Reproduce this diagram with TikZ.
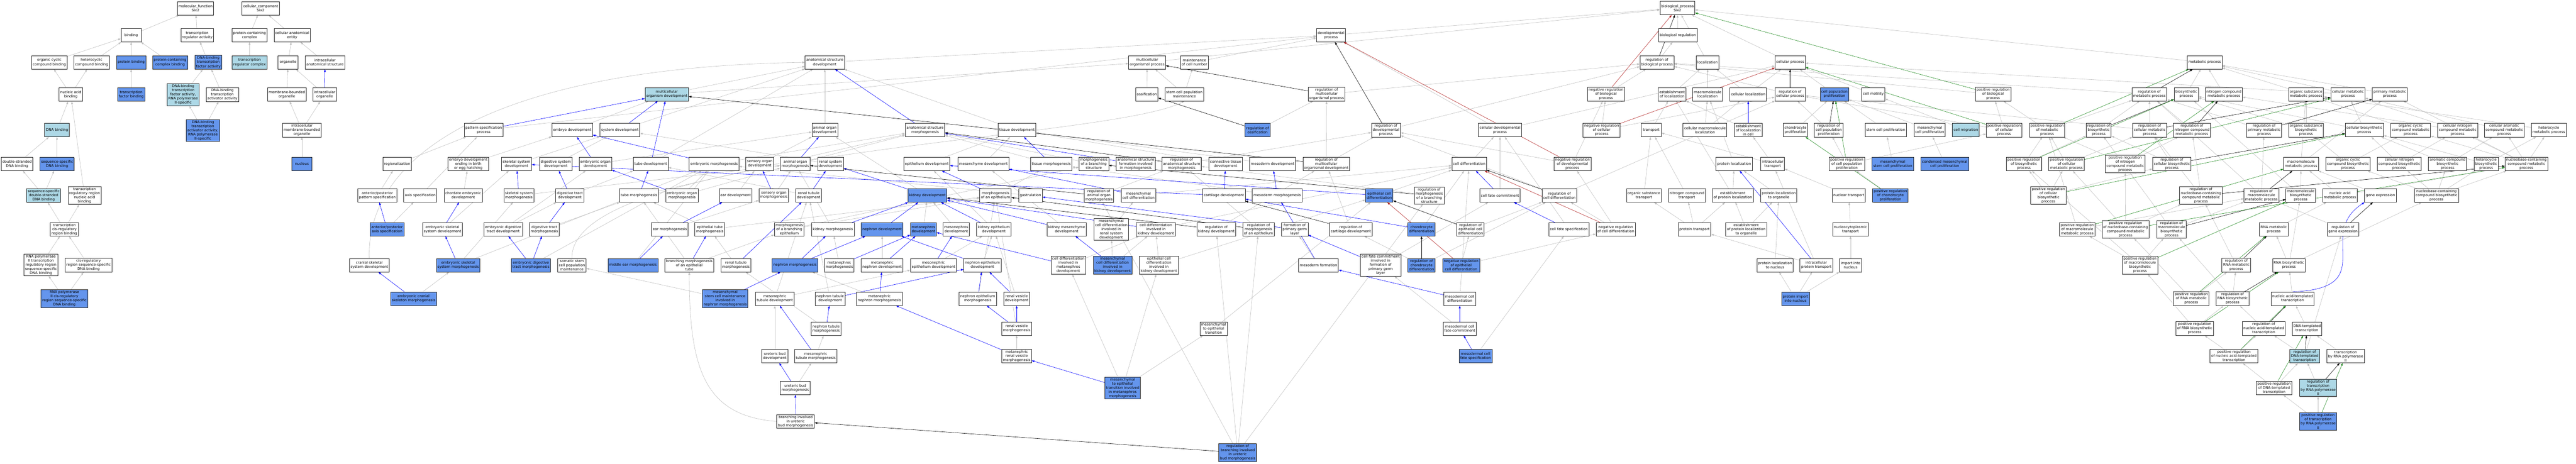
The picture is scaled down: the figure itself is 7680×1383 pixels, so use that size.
\documentclass[tikz,border=0pt]{standalone}
\usepackage{fontspec}
\setmainfont{DejaVu Sans}
\usetikzlibrary{arrows.meta,shadows}
\definecolor{cblue}{HTML}{6495ED}
\definecolor{lblue}{HTML}{ADD8E6}
\definecolor{egray}{HTML}{BEBEBE}
\definecolor{ered}{HTML}{B22222}
\definecolor{egreen}{HTML}{228B22}
\definecolor{eblue}{HTML}{0000FF}
\pgfdeclarelayer{bg}
\pgfsetlayers{bg,main}
\begin{document}
\begin{tikzpicture}[x=1pt,y=-1pt,
 nd/.style={draw=black!85,line width=1.2pt,fill=white,rectangle,align=center,
   font=\fontsize{10.6}{12.3}\selectfont,inner xsep=3.5pt,inner ysep=3pt,
   minimum width=60pt,minimum height=40pt,
   drop shadow={shadow xshift=1pt,shadow yshift=-1pt,fill=black!40,opacity=1}},
 bl/.style={nd,fill=cblue},
 lb/.style={nd,fill=lblue},
 tip/.style={-{Triangle[length=8pt,width=5.5pt]}},
 ea/.style={draw=egray,line width=0.9pt,tip},
 ep/.style={draw=eblue,line width=0.9pt,tip},
 er/.style={draw=black,line width=0.9pt,tip},
 en/.style={draw=ered,line width=0.9pt,tip},
 eg/.style={draw=egreen,line width=0.9pt,tip}]
\useasboundingbox (0,0) rectangle (7680,1383);
% ---------------- molecular function / cellular component
\node[nd] (mf) at (583,25) {molecular\_function\\Six2};
\node[nd] (cc) at (777,25) {cellular\_component\\Six2};
\node[nd] (binding) at (391,105) {binding};
\node[nd] (trareg) at (588,105) {transcription\\regulator activity};
\node[nd] (pcc) at (744,105) {protein-containing\\complex};
\node[nd] (cae) at (871,105) {cellular anatomical\\entity};
\node[nd] (ocb) at (147,186) {organic cyclic\\compound binding};
\node[nd] (hcb) at (273,186) {heterocyclic\\compound binding};
\node[bl] (protb) at (391,186) {protein binding};
\node[bl] (pccb) at (507,186) {protein-containing\\complex binding};
\node[bl] (dbtfa) at (621,186) {DNA-binding\\transcription\\factor activity};
\node[lb] (trc) at (744,186) {transcription\\regulator complex};
\node[nd] (organelle) at (859,186) {organelle};
\node[nd] (ias) at (969,186) {intracellular\\anatomical structure};
\node[nd] (nab) at (211,282) {nucleic acid\\binding};
\node[bl] (tfb) at (391,282) {transcription\\factor binding};
\node[lb] (dbtf2) at (546,282) {DNA-binding\\transcription\\factor activity,\\RNA polymerase\\II-specific};
\node[nd] (dbtaa) at (663,282) {DNA-binding\\transcription\\activator activity};
\node[nd] (mbo) at (855,282) {membrane-bounded\\organelle};
\node[nd] (io) at (968,282) {intracellular\\organelle};
\node[lb] (dnab) at (170,388) {DNA binding};
\node[bl] (dbta2) at (605,389) {DNA-binding\\transcription\\activator activity,\\RNA polymerase\\II-specific};
\node[nd] (imbo) at (900,388) {intracellular\\membrane-bounded\\organelle};
\node[nd] (dsdna) at (51,489) {double-stranded\\DNA binding};
\node[bl] (ssdna) at (170,489) {sequence-specific\\DNA binding};
\node[bl] (nucleus) at (900,489) {nucleus};
\node[lb] (ssds) at (130,583) {sequence-specific\\double-stranded\\DNA binding};
\node[nd] (trrnab) at (252,583) {transcription\\regulatory region\\nucleic acid\\binding};
\node[nd] (tcrb) at (192,684) {transcription\\cis-regulatory\\region binding};
\node[nd] (rp2tr) at (122,790) {RNA polymerase\\II transcription\\regulatory region\\sequence-specific\\DNA binding};
\node[nd] (crss) at (264,791) {cis-regulatory\\region sequence-specific\\DNA binding};
\node[bl] (rp2cr) at (192,891) {RNA polymerase\\II cis-regulatory\\region sequence-specific\\DNA binding};
% ---------------- development (left)
\node[nd] (regionalization) at (1184,489) {regionalization};
\node[nd] (apps) at (1125,583) {anterior/posterior\\pattern specification};
\node[nd] (axisspec) at (1253,583) {axis specification};
\node[bl] (apas) at (1154,684) {anterior/posterior\\axis specification};
\node[nd] (essd) at (1319,684) {embryonic skeletal\\system development};
\node[nd] (crsd) at (1101,791) {cranial skeletal\\system development};
\node[bl] (ecsm) at (1233,891) {embryonic cranial\\skeleton morphogenesis};
\node[nd] (asd) at (2459,186) {anatomical structure\\development};
\node[lb] (mod) at (1988,281) {multicellular\\organism development};
\node[nd] (psp) at (1442,388) {pattern specification\\process};
\node[nd] (ed) at (1706,388) {embryo development};
\node[nd] (sysdev) at (1848,388) {system development};
\node[nd] (aod) at (2459,388) {animal organ\\development};
\node[nd] (edebeh) at (1396,489) {embryo development\\ending in birth\\or egg hatching};
\node[nd] (ssd) at (1540,489) {skeletal system\\development};
\node[nd] (dsd) at (1657,489) {digestive system\\development};
\node[nd] (eod) at (1775,489) {embryonic organ\\development};
\node[nd] (tubedev) at (1940,489) {tube development};
\node[nd] (emorph) at (2129,489) {embryonic morphogenesis};
\node[nd] (sod) at (2265,489) {sensory organ\\development};
\node[nd] (aom) at (2371,489) {animal organ\\morphogenesis};
\node[nd] (rsd) at (2476,489) {renal system\\development};
\node[nd] (ced) at (1381,583) {chordate embryonic\\development};
\node[nd] (ssm) at (1547,583) {skeletal system\\morphogenesis};
\node[nd] (dtd) at (1699,583) {digestive tract\\development};
\node[nd] (tubemorph) at (1905,583) {tube morphogenesis};
\node[nd] (eom) at (2033,583) {embryonic organ\\morphogenesis};
\node[nd] (eardev) at (2193,583) {ear development};
\node[nd] (som) at (2307,583) {sensory organ\\morphogenesis};
\node[nd] (rtd) at (2411,583) {renal tubule\\development};
\node[nd] (edtd) at (1500,684) {embryonic digestive\\tract development};
\node[nd] (dtm) at (1623,684) {digestive tract\\morphogenesis};
\node[nd] (earmorph) at (1997,684) {ear morphogenesis};
\node[nd] (etm) at (2116,684) {epithelial tube\\morphogenesis};
\node[nd] (mobe) at (2353,684) {morphogenesis\\of a branching\\epithelium};
\node[nd] (kidmorph) at (2483,684) {kidney morphogenesis};
\node[bl] (nephdev) at (2630,684) {nephron development};
\node[bl] (essm) at (1366,791) {embryonic skeletal\\system morphogenesis};
\node[bl] (edtm) at (1583,791) {embryonic digestive\\tract morphogenesis};
\node[nd] (sscpm) at (1705,791) {somatic stem\\cell population\\maintenance};
\node[bl] (mem) at (1887,791) {middle ear morphogenesis};
\node[nd] (bmet) at (2055,791) {branching morphogenesis\\of an epithelial\\tube};
\node[nd] (rtm) at (2194,791) {renal tubule\\morphogenesis};
\node[bl] (nephmorph) at (2370,791) {nephron morphogenesis};
\node[nd] (metmorph) at (2502,791) {metanephros\\morphogenesis};
\node[nd] (mnd) at (2630,791) {metanephric\\nephron development};
\node[bl] (msmn) at (2162,891) {mesenchymal\\stem cell maintenance\\involved in\\nephron morphogenesis};
\node[nd] (mtd) at (2310,891) {mesonephric\\tubule development};
\node[nd] (ntd) at (2475,891) {nephron tubule\\development};
\node[nd] (mnm) at (2622,891) {metanephric\\nephron morphogenesis};
\node[nd] (ntm) at (2463,981) {nephron tubule\\morphogenesis};
\node[nd] (ubd) at (2310,1062) {ureteric bud\\development};
\node[nd] (mtm) at (2432,1062) {mesonephric\\tubule morphogenesis};
\node[nd] (ubm) at (2371,1157) {ureteric bud\\morphogenesis};
\node[nd] (biubm) at (2372,1257) {branching involved\\in ureteric\\bud morphogenesis};
% ---------------- development (middle)
\node[nd] (mop) at (3420,186) {multicellular\\organismal process};
\node[nd] (mcn) at (3561,186) {maintenance\\of cell number};
\node[nd] (ossif) at (3419,281) {ossification};
\node[nd] (scpm) at (3531,281) {stem cell population\\maintenance};
\node[nd] (asmorph) at (2758,388) {anatomical structure\\morphogenesis};
\node[nd] (tissdev) at (3032,388) {tissue development};
\node[bl] (regoss) at (3749,388) {regulation of\\ossification};
\node[nd] (epidev) at (2763,489) {epithelium development};
\node[nd] (mesdev) at (2932,489) {mesenchyme development};
\node[nd] (tissmorph) at (3134,489) {tissue morphogenesis};
\node[nd] (mbs) at (3261,489) {morphogenesis\\of a branching\\structure};
\node[nd] (asfim) at (3386,489) {anatomical structure\\formation involved\\in morphogenesis};
\node[nd] (rasm) at (3523,489) {regulation of\\anatomical structure\\morphogenesis};
\node[nd] (ctd) at (3654,489) {connective tissue\\development};
\node[nd] (mesodermdev) at (3794,489) {mesoderm development};
\node[bl] (kiddev) at (2765,583) {kidney development};
\node[nd] (moe) at (2968,583) {morphogenesis\\of an epithelium};
\node[nd] (gastr) at (3072,583) {gastrulation};
\node[nd] (raom) at (3276,583) {regulation of\\animal organ\\morphogenesis};
\node[nd] (mcd) at (3394,583) {mesenchymal\\cell differentiation};
\node[nd] (cardev) at (3649,583) {cartilage development};
\node[nd] (mesomorph) at (3808,583) {mesoderm morphogenesis};
\node[bl] (metdev) at (2753,684) {metanephros\\development};
\node[nd] (mesodev) at (2851,684) {mesonephros\\development};
\node[nd] (kedev) at (2963,684) {kidney epithelium\\development};
\node[nd] (kmdev) at (3180,684) {kidney mesenchyme\\development};
\node[nd] (mcdrsd) at (3313,684) {mesenchymal\\cell differentiation\\involved in\\renal system\\development};
\node[nd] (cdikd) at (3446,684) {cell differentiation\\involved in\\kidney development};
\node[nd] (rkd) at (3626,684) {regulation of\\kidney development};
\node[nd] (rmoe) at (3752,684) {regulation of\\morphogenesis\\of an epithelium};
\node[nd] (fpgl) at (3860,684) {formation of\\primary germ\\layer};
\node[nd] (med) at (2783,791) {mesonephric\\epithelium development};
\node[nd] (ned) at (2929,791) {nephron epithelium\\development};
\node[nd] (cdimd) at (3185,791) {cell differentiation\\involved in\\metanephros\\development};
\node[bl] (mcdikd) at (3317,791) {mesenchymal\\cell differentiation\\involved in\\kidney development};
\node[nd] (ecdikd) at (3455,791) {epithelial cell\\differentiation\\involved in\\kidney development};
\node[nd] (nem) at (2915,891) {nephron epithelium\\morphogenesis};
\node[nd] (rvd) at (3031,891) {renal vesicle\\development};
\node[nd] (rvm) at (3031,980) {renal vesicle\\morphogenesis};
\node[nd] (met) at (3618,980) {mesenchymal\\to epithelial\\transition};
\node[nd] (mrvm) at (3031,1062) {metanephric\\renal vesicle\\morphogenesis};
\node[bl] (metimm) at (3347,1157) {mesenchymal\\to epithelial\\transition involved\\in metanephros\\morphogenesis};
\node[bl] (rbiubm) at (3690,1350) {regulation of\\branching involved\\in ureteric\\bud morphogenesis};
% ---------------- biological process / regulation
\node[nd] (bp) at (5001,24) {biological\_process\\Six2};
\node[nd] (devproc) at (3968,105) {developmental\\process};
\node[nd] (bioreg) at (5002,105) {biological regulation};
\node[nd] (rbp) at (4940,186) {regulation of\\biological process};
\node[nd] (localization) at (5091,186) {localization};
\node[nd] (romop) at (3955,281) {regulation of\\multicellular\\organismal process};
\node[nd] (nrbp) at (4788,281) {negative regulation\\of biological\\process};
\node[nd] (eol) at (4985,281) {establishment\\of localization};
\node[nd] (ml) at (5091,281) {macromolecule\\localization};
\node[nd] (rdp) at (4132,388) {regulation of\\developmental\\process};
\node[nd] (cdp) at (4472,388) {cellular developmental\\process};
\node[nd] (nrcp) at (4775,388) {negative regulation\\of cellular\\process};
\node[nd] (transport) at (4923,388) {transport};
\node[nd] (cml) at (5083,388) {cellular macromolecule\\localization};
\node[nd] (romod) at (3954,489) {regulation of\\multicellular\\organismal development};
\node[nd] (celldiff) at (4380,489) {cell differentiation};
\node[nd] (nrdp) at (4688,489) {negative regulation\\of developmental\\process};
\node[nd] (protloc) at (5170,489) {protein localization};
\node[bl] (ecd) at (4112,583) {epithelial cell\\differentiation};
\node[nd] (rmbs) at (4261,583) {regulation of\\morphogenesis\\of a branching\\structure};
\node[nd] (cfc) at (4472,583) {cell fate commitment};
\node[nd] (rcd) at (4649,583) {regulation of\\cell differentiation};
\node[nd] (ost) at (4901,583) {organic substance\\transport};
\node[nd] (nct) at (5029,583) {nitrogen compound\\transport};
\node[nd] (eopl) at (5166,583) {establishment\\of protein localization};
\node[nd] (rcartd) at (4027,684) {regulation of\\cartilage development};
\node[bl] (chondiff) at (4238,684) {chondrocyte\\differentiation};
\node[nd] (recd) at (4384,684) {regulation of\\epithelial cell\\differentiation};
\node[nd] (cfs) at (4677,684) {cell fate specification};
\node[nd] (nrcd) at (4817,684) {negative regulation\\of cell differentiation};
\node[nd] (prottrans) at (5052,684) {protein transport};
\node[nd] (mesoform) at (3931,791) {mesoderm formation};
\node[nd] (cfcifpgl) at (4116,791) {cell fate commitment\\involved in\\formation of\\primary germ\\layer};
\node[bl] (rchondiff) at (4238,791) {regulation of\\chondrocyte\\differentiation};
\node[bl] (nrecd) at (4356,791) {negative regulation\\of epithelial\\cell differentiation};
\node[nd] (mcdiff) at (4352,891) {mesodermal cell\\differentiation};
\node[nd] (mcfc) at (4352,980) {mesodermal cell\\fate commitment};
\node[bl] (mcfs) at (4399,1062) {mesodermal cell\\fate specification};
% ---------------- cellular process
\node[nd] (cellproc) at (5337,186) {cellular process};
\node[nd] (cellloc) at (5212,281) {cellular localization};
\node[nd] (rcp) at (5337,281) {regulation of\\cellular process};
\node[bl] (cpp) at (5469,281) {cell population\\proliferation};
\node[nd] (motility) at (5585,281) {cell motility};
\node[nd] (prbp) at (5942,281) {positive regulation\\of biological\\process};
\node[nd] (rmp) at (6408,281) {regulation of\\metabolic process};
\node[nd] (elic) at (5212,388) {establishment\\of localization\\in cell};
\node[nd] (chondprolif) at (5353,388) {chondrocyte\\proliferation};
\node[nd] (rcpp) at (5452,388) {regulation of\\cell population\\proliferation};
\node[nd] (scp) at (5622,388) {stem cell proliferation};
\node[nd] (mcp) at (5753,388) {mesenchymal\\cell proliferation};
\node[lb] (cellmig) at (5861,388) {cell migration};
\node[nd] (prcp) at (5975,388) {positive regulation\\of cellular\\process};
\node[nd] (prmp) at (6103,388) {positive regulation\\of metabolic\\process};
\node[nd] (rbsp) at (6257,388) {regulation of\\biosynthetic\\process};
\node[nd] (rcmp) at (6409,388) {regulation of\\cellular metabolic\\process};
\node[nd] (intratrans) at (5285,489) {intracellular\\transport};
\node[nd] (prcpp) at (5506,489) {positive regulation\\of cell population\\proliferation};
\node[bl] (mscp) at (5643,489) {mesenchymal\\stem cell proliferation};
\node[bl] (cmcp) at (5798,489) {condensed mesenchymal\\cell proliferation};
\node[nd] (prbsp) at (6034,489) {positive regulation\\of biosynthetic\\process};
\node[nd] (prcmp) at (6161,489) {positive regulation\\of cellular\\metabolic process};
\node[nd] (prncmp) at (6336,489) {positive regulation\\of nitrogen\\compound metabolic\\process};
\node[nd] (rcbp) at (6475,489) {regulation of\\cellular biosynthetic\\process};
\node[nd] (plto) at (5303,583) {protein localization\\to organelle};
\node[nd] (nuctrans) at (5512,583) {nuclear transport};
\node[bl] (prchondprolif) at (5636,583) {positive regulation\\of chondrocyte\\proliferation};
\node[nd] (prcbp) at (6107,583) {positive regulation\\of cellular\\biosynthetic\\process};
\node[nd] (rnccmp) at (6562,583) {regulation of\\nucleobase-containing\\compound metabolic\\process};
\node[nd] (eoplto) at (5206,684) {establishment\\of protein localization\\to organelle};
\node[nd] (nctrans) at (5517,684) {nucleocytoplasmic\\transport};
\node[nd] (prmmp) at (6193,684) {positive regulation\\of macromolecule\\metabolic process};
\node[nd] (prnccmp) at (6337,684) {positive regulation\\of nucleobase-containing\\compound metabolic\\process};
\node[nd] (pltn) at (5292,791) {protein localization\\to nucleus};
\node[nd] (ipt) at (5415,791) {intracellular\\protein transport};
\node[nd] (iin) at (5517,791) {import into\\nucleus};
\node[nd] (prmbp) at (6380,791) {positive regulation\\of macromolecule\\biosynthetic\\process};
\node[bl] (pin) at (5353,891) {protein import\\into nucleus};
% ---------------- metabolic process
\node[nd] (metproc) at (6573,186) {metabolic process};
\node[nd] (biosynth) at (6518,281) {biosynthetic\\process};
\node[nd] (ncmp) at (6630,281) {nitrogen compound\\metabolic process};
\node[nd] (osmp) at (6875,281) {organic substance\\metabolic process};
\node[nd] (cellmet) at (7000,281) {cellular metabolic\\process};
\node[nd] (primmet) at (7125,281) {primary metabolic\\process};
\node[nd] (rncmp) at (6535,388) {regulation of\\nitrogen compound\\metabolic process};
\node[nd] (rpmp) at (6750,388) {regulation of\\primary metabolic\\process};
\node[nd] (osbp) at (6875,388) {organic substance\\biosynthetic\\process};
\node[nd] (cbp) at (7049,388) {cellular biosynthetic\\process};
\node[nd] (occmp) at (7187,388) {organic cyclic\\compound metabolic\\process};
\node[nd] (cncmp) at (7327,388) {cellular nitrogen\\compound metabolic\\process};
\node[nd] (camp) at (7466,388) {cellular aromatic\\compound metabolic\\process};
\node[nd] (hmp) at (7599,388) {heterocycle\\metabolic process};
\node[nd] (mmp) at (6860,489) {macromolecule\\metabolic process};
\node[nd] (occbp) at (7000,489) {organic cyclic\\compound biosynthetic\\process};
\node[nd] (cncbp) at (7153,489) {cellular nitrogen\\compound biosynthetic\\process};
\node[nd] (acbp) at (7297,489) {aromatic compound\\biosynthetic\\process};
\node[nd] (hbp) at (7412,489) {heterocycle\\biosynthetic\\process};
\node[nd] (nccmp) at (7532,489) {nucleobase-containing\\compound metabolic\\process};
\node[nd] (rmmp) at (6742,583) {regulation of\\macromolecule\\metabolic process};
\node[nd] (mbp) at (6859,583) {macromolecule\\biosynthetic\\process};
\node[nd] (namp) at (6976,583) {nucleic acid\\metabolic process};
\node[nd] (geneexp) at (7097,583) {gene expression};
\node[nd] (nccbp) at (7264,583) {nucleobase-containing\\compound biosynthetic\\process};
\node[nd] (rmbp) at (6474,684) {regulation of\\macromolecule\\biosynthetic\\process};
\node[nd] (rnamp) at (6779,684) {RNA metabolic\\process};
\node[nd] (rge) at (6985,684) {regulation of\\gene expression};
\node[nd] (rrnamp) at (6667,791) {regulation of\\RNA metabolic\\process};
\node[nd] (rnabp) at (6824,791) {RNA biosynthetic\\process};
\node[nd] (prrnamp) at (6533,891) {positive regulation\\of RNA metabolic\\process};
\node[nd] (rrnabp) at (6656,891) {regulation of\\RNA biosynthetic\\process};
\node[nd] (nat) at (6835,891) {nucleic acid-templated\\transcription};
\node[nd] (prrnabp) at (6543,980) {positive regulation\\of RNA biosynthetic\\process};
\node[nd] (rnatt) at (6749,980) {regulation of\\nucleic acid-templated\\transcription};
\node[nd] (dtt) at (6878,980) {DNA-templated\\transcription};
\node[nd] (prnatt) at (6660,1062) {positive regulation\\of nucleic acid-templated\\transcription};
\node[lb] (rdtt) at (6871,1062) {regulation of\\DNA-templated\\transcription};
\node[nd] (trp2) at (6993,1062) {transcription\\by RNA polymerase\\II};
\node[nd] (prdtt) at (6780,1157) {positive regulation\\of DNA-templated\\transcription};
\node[lb] (rtrp2) at (6911,1157) {regulation of\\transcription\\by RNA polymerase\\II};
\node[bl] (prtrp2) at (6911,1257) {positive regulation\\of transcription\\by RNA polymerase\\II};
% ================= edges
\begin{pgfonlayer}{bg}
\fill[white] (0,0) rectangle (7680,1383);
\foreach \a/\b in {binding/mf, trareg/mf, pcc/cc, cae/cc, ocb/binding, hcb/binding, protb/binding, pccb/binding, dbtfa/trareg, trc/pcc, organelle/cae, ias/cae, nab/ocb, nab/hcb, tfb/protb, dbtf2/dbtfa, dbtaa/dbtfa, mbo/organelle, io/organelle, dnab/nab, dbta2/dbtf2, dbta2/dbtaa, imbo/mbo, imbo/io, dsdna/dnab, ssdna/dnab, nucleus/imbo, trrnab/nab, ssds/dsdna, ssds/ssdna, tcrb/ssds, tcrb/trrnab, rp2tr/tcrb, crss/tcrb, rp2cr/rp2tr, rp2cr/crss,
 regionalization/psp, apps/regionalization, axisspec/psp, apas/axisspec, ecsm/essm, essd/ssd, essm/ssm, essm/emorph, ced/edebeh, edebeh/ed, psp/devproc, ed/mod, mod/asd, mod/mop, sysdev/asd, aod/asd, emorph/asmorph, eod/aod, ssd/sysdev, dsd/sysdev, tubedev/asd, sod/aod, aom/asmorph, rsd/sysdev, ssm/aom, dtd/tubedev, tubemorph/asmorph, eom/emorph, eom/aom, eardev/sod, som/aom, rtd/tubedev, edtd/dtd, edtd/eod, dtm/tubemorph, earmorph/som, etm/tubemorph, etm/moe, mobe/mbs, mobe/moe, kidmorph/aom, edtm/emorph, mem/emorph, bmet/mobe, bmet/tubemorph, rtm/etm, metmorph/kidmorph, msmn/sscpm, mtd/rtd, mtd/med, ntd/rtd, ntm/rtm, ubd/mtd, mtm/ntm, ubm/mtm, mnm/nephmorph,
 mop/bp, mcn/devproc, ossif/mop, scpm/mop, scpm/mcn, regoss/romop, tissdev/asd, epidev/tissdev, mesdev/tissdev, tissmorph/asmorph, mbs/asmorph, ctd/tissdev, mesodermdev/tissdev, kiddev/aod, moe/tissmorph, gastr/emorph, raom/rasm, mcd/celldiff, mesomorph/tissmorph, metdev/kiddev, mesodev/kiddev, kedev/epidev, kmdev/mesdev, mcdrsd/mcd, cdikd/celldiff, mnd/nephdev, med/kedev, ned/kedev, cdimd/cdikd, mcdikd/mcdrsd, mcdikd/cdikd, ecdikd/cdikd, ecdikd/ecd, nem/moe, rvd/kedev, rvm/moe, met/ecd, mrvm/rvm, metimm/met, metimm/cdimd, metimm/ecdikd, rbiubm/rkd, rbiubm/rmoe, rbiubm/raom, rbiubm/rmbs, rasm/rdp, rkd/romod, rmoe/rasm, asd/devproc, devproc/bp,
 bioreg/bp, rbp/bioreg, localization/bp, romop/rbp, nrbp/rbp, eol/localization, ml/localization, rdp/rbp, cdp/devproc, cdp/cellproc, nrcp/nrbp, nrcp/rcp, transport/eol, cml/ml, cml/cellloc, romod/romop, romod/rdp, celldiff/cdp, nrdp/rdp, nrdp/nrbp, protloc/ml, ecd/celldiff, rmbs/rasm, cfc/cdp, rcd/rdp, rcd/rcp, ost/transport, nct/transport, eopl/protloc, eopl/eol, rcartd/romod, chondiff/celldiff, recd/rcd, cfs/cdp, nrcd/rcd, nrcd/nrdp, prottrans/ost, prottrans/nct, prottrans/eopl, mesoform/fpgl, cfcifpgl/cfc, rchondiff/rcd, rchondiff/rcartd, nrecd/recd, nrecd/nrcd, mcdiff/celldiff, mcfc/cfcifpgl, mcfs/cfs,
 cellproc/bp, cellloc/localization, cellloc/cellproc, rcp/rbp, cpp/cellproc, motility/cellproc, prbp/rbp, rmp/rbp, elic/eol, chondprolif/cpp, rcpp/rcp, scp/cpp, mcp/cpp, cellmig/motility, prcp/prbp, prcp/rcp, prmp/prbp, prmp/rmp, rbsp/rmp, rcmp/rmp, rcmp/rcp, intratrans/transport, intratrans/elic, prcpp/rcpp, prcpp/prcp, mscp/scp, cmcp/mcp, prbsp/rbsp, prbsp/prmp, prcmp/rcmp, prcmp/prmp, prncmp/prmp, prncmp/rncmp, rcbp/rbsp, rcbp/rcmp, plto/protloc, nuctrans/intratrans, prchondprolif/prcpp, prcbp/prbsp, prcbp/prcmp, prcbp/rcbp, rnccmp/rcmp, rnccmp/rncmp, eoplto/eopl, eoplto/plto, nctrans/nuctrans, prmmp/prmp, prmmp/rmmp, prnccmp/rnccmp, prnccmp/prcmp, prnccmp/prncmp, pltn/plto, ipt/intratrans, ipt/prottrans, iin/nctrans, prmbp/prmmp, prmbp/prbsp, prmbp/rmbp, pin/pltn, pin/ipt, pin/iin,
 metproc/bp, biosynth/metproc, ncmp/metproc, osmp/metproc, cellmet/metproc, cellmet/cellproc, primmet/metproc, rncmp/rmp, rpmp/rmp, osbp/osmp, osbp/biosynth, cbp/biosynth, cbp/cellmet, occmp/osmp, cncmp/cellmet, cncmp/ncmp, camp/cellmet, hmp/osmp, mmp/osmp, mmp/primmet, occbp/occmp, occbp/osbp, cncbp/cncmp, cncbp/cbp, acbp/camp, acbp/cbp, hbp/hmp, hbp/cbp, nccmp/occmp, nccmp/cncmp, nccmp/camp, nccmp/hmp, nccmp/primmet, rmmp/rmp, rmmp/rpmp, mbp/mmp, mbp/biosynth, namp/nccmp, namp/mmp, geneexp/mmp, nccbp/nccmp, nccbp/occbp, nccbp/cncbp, nccbp/acbp, nccbp/hbp, rmbp/rmmp, rmbp/rbsp, rnamp/namp, rge/rmmp, rrnamp/rnccmp, rnabp/rnamp, rnabp/mbp, rnabp/nccbp, prrnamp/rrnamp, prrnamp/prnccmp, rrnabp/rrnamp, rrnabp/rmbp, nat/rnabp, prrnabp/rrnabp, prrnabp/prmbp, rnatt/rrnabp, dtt/nat, prnatt/rnatt, prnatt/prrnabp, rdtt/rnatt, rdtt/rge, trp2/dtt, prdtt/prnatt, prdtt/rdtt, rtrp2/rdtt, prtrp2/prdtt, prtrp2/rtrp2}
 \draw[ea] (\a) -- (\b);
\draw[ea] (crsd.north) .. controls (1090,450) and (1500,200) .. (asd.west);
\draw[ea] (biubm.west) .. controls (2100,1240) and (2055,1100) .. (bmet.south);
\draw[ea] (sscpm.north) .. controls (1700,450) and (3300,420) .. (scpm.south);
\foreach \a/\b in {io/ias, apas/apps, ecsm/crsd, essd/ced, essm/essd, psp/mod, sysdev/mod, tubedev/mod, emorph/ed, eod/ed, aom/aod, ssm/ssd, dtd/dsd, tubemorph/tubedev, eom/eod, som/sod, rtd/rsd, dtm/dtd, earmorph/eardev, kidmorph/kiddev, nephdev/kiddev, edtm/edtd, edtm/dtm, mem/earmorph, bmet/etm, rtm/rtd, nephmorph/kidmorph, nephmorph/nephdev, metmorph/metdev, msmn/nephmorph, ntm/ntd, ntd/ned, mtm/mtd, ubm/ubd, biubm/ubm,
 asmorph/asd, tissmorph/tissdev, asfim/asmorph, kiddev/rsd, cardev/ssd, moe/epidev, mcd/mesdev, cardev/ctd, mesomorph/mesodermdev, kedev/kiddev, kmdev/kiddev, cdikd/kiddev, fpgl/gastr, mnd/metdev, med/mesodev, ned/nephdev, cdimd/metdev, mcdikd/kmdev, mnm/mnd, nem/ned, rvd/ned, rvm/rvd, rvm/nem, mrvm/mnm, metimm/mrvm,
 ecd/epidev, cfc/celldiff, chondiff/cardev, cfs/cfc, mesoform/mesomorph, cfcifpgl/fpgl, mcdiff/mesoform, mcfc/mcdiff, mcfs/mcfc, elic/cellloc, ipt/protloc}
 \draw[ep] (\a) -- (\b);
\draw[ep] (nat.north) .. controls (7100,860) and (6900,700) .. (geneexp.south west);
\foreach \a/\b in {rbiubm/biubm, regoss/ossif, rasm/asmorph, raom/aom, rkd/kiddev, rmoe/moe, rbp/bp, romop/mop, rdp/devproc, romod/mod, rmbs/mbs, rcd/celldiff, rcartd/cardev, recd/ecd, rchondiff/chondiff, rcp/cellproc, rmp/metproc, rcpp/cpp, rbsp/biosynth, rcmp/cellmet, rcbp/cbp, rnccmp/nccmp, rncmp/ncmp, rpmp/primmet, rmmp/mmp, rmbp/mbp, rge/geneexp, rrnamp/rnamp, rrnabp/rnabp, rnatt/nat, rdtt/dtt, rtrp2/trp2}
 \draw[er] (\a) -- (\b);
\foreach \a/\b in {nrbp/bp, nrcp/cellproc, nrdp/devproc, nrcd/celldiff, nrecd/ecd}
 \draw[en] (\a) -- (\b);
\foreach \a/\b in {prbp/bp, prcp/cellproc, prmp/metproc, prcpp/cpp, prchondprolif/chondprolif, prbsp/biosynth, prcmp/cellmet, prncmp/ncmp, prcbp/cbp, prmmp/mmp, prnccmp/nccmp, prmbp/mbp, prrnamp/rnamp, prrnabp/rnabp, prnatt/nat, prdtt/dtt, prtrp2/trp2}
 \draw[eg] (\a) -- (\b);
\end{pgfonlayer}
\end{tikzpicture}
\end{document}
